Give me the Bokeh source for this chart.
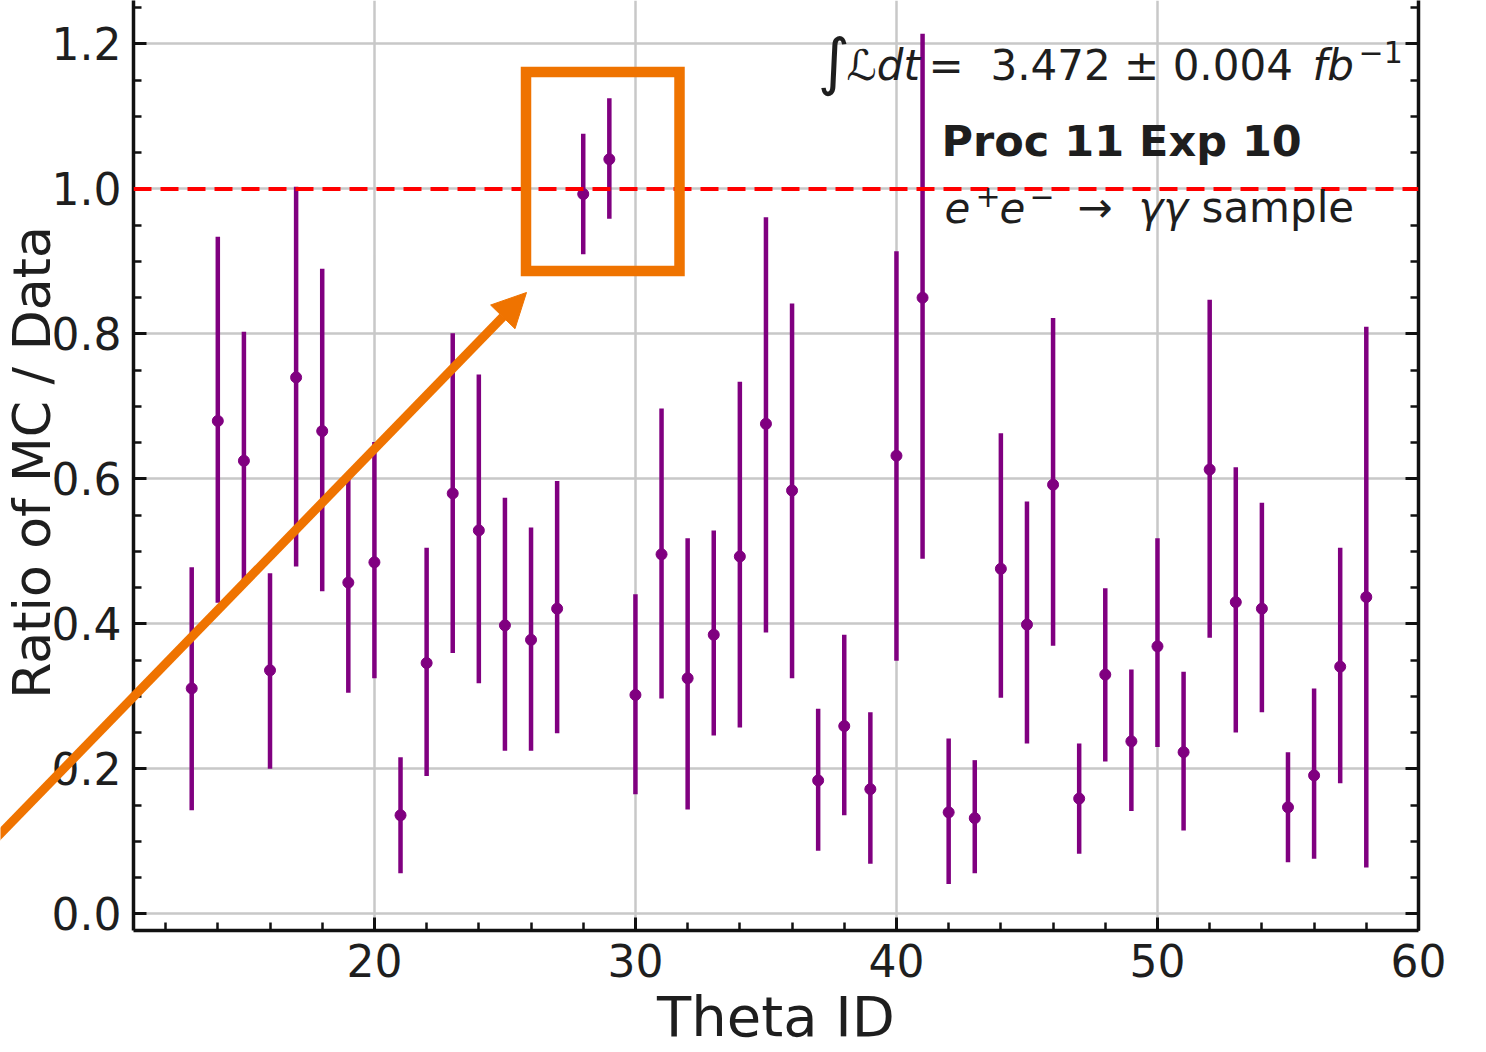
import math

from bokeh.embed import file_html
from bokeh.models import (Arrow, BoxAnnotation, ColumnDataSource, CustomJSTickFormatter,
                          GridBox, Label, LinearAxis, NormalHead, PrintfTickFormatter,
                          Range1d, SingleIntervalTicker, Span)
from bokeh.plotting import figure
from bokeh.resources import INLINE

# ---- data: MC / data ratio per theta bin, with the ends of each error bar ----
theta_id = list(range(13, 59))
ratio = [0.311, 0.680, 0.625, 0.336, 0.740, 0.666, 0.457, 0.485, 0.136, 0.346,
         0.580, 0.529, 0.398, 0.378, 0.421, 0.993, 1.041, 0.302, 0.496, 0.325,
         0.385, 0.493, 0.676, 0.584, 0.184, 0.259, 0.172, 0.632, 0.850, 0.140,
         0.132, 0.476, 0.399, 0.592, 0.159, 0.330, 0.238, 0.369, 0.223, 0.613,
         0.430, 0.421, 0.147, 0.191, 0.341, 0.437]
ratio_low = [0.143, 0.429, 0.452, 0.200, 0.479, 0.445, 0.305, 0.325, 0.056, 0.190,
             0.360, 0.318, 0.225, 0.225, 0.249, 0.910, 0.959, 0.165, 0.297, 0.144,
             0.246, 0.257, 0.388, 0.325, 0.087, 0.136, 0.069, 0.349, 0.490, 0.041,
             0.056, 0.298, 0.235, 0.370, 0.083, 0.210, 0.142, 0.230, 0.115, 0.381,
             0.250, 0.278, 0.071, 0.076, 0.180, 0.064]
ratio_high = [0.478, 0.934, 0.803, 0.470, 1.003, 0.890, 0.607, 0.651, 0.216, 0.505,
              0.801, 0.744, 0.574, 0.533, 0.597, 1.076, 1.125, 0.441, 0.697, 0.518,
              0.529, 0.734, 0.961, 0.842, 0.283, 0.385, 0.278, 0.914, 1.214, 0.242,
              0.212, 0.663, 0.569, 0.822, 0.235, 0.449, 0.337, 0.518, 0.334, 0.847,
              0.616, 0.567, 0.223, 0.311, 0.505, 0.810]

x_ticks_major = 10
y_ticks_major = 0.2
reference_ratio = 1.0

X_RANGE = (10.77, 60.0)
Y_RANGE = (-0.023, 1.26)

W, H = 1486, 1052
FRAME_L, FRAME_R, FRAME_T, FRAME_B = 133, 1418, 0, 930

PURPLE = "#800080"
ORANGE = "#ef7300"
INK = "#1e1e1e"
FONT = "DejaVu Sans"


def dx(px):
    """canvas pixel column -> x data value"""
    return X_RANGE[0] + (px - FRAME_L) / (FRAME_R - FRAME_L) * (X_RANGE[1] - X_RANGE[0])


def dy(py):
    """canvas pixel row -> y data value"""
    return Y_RANGE[1] - (py - FRAME_T) / (FRAME_B - FRAME_T) * (Y_RANGE[1] - Y_RANGE[0])


src = ColumnDataSource(dict(theta=theta_id, ratio=ratio, lo=ratio_low, hi=ratio_high))

p = figure(width=W, height=H, output_backend="svg", toolbar_location=None,
           x_range=Range1d(*X_RANGE), y_range=Range1d(*Y_RANGE), title=None,
           min_border_left=FRAME_L, min_border_right=W - FRAME_R,
           min_border_top=FRAME_T, min_border_bottom=H - FRAME_B)
p.frame_align = False
p.background_fill_color = "white"
p.border_fill_color = "white"
p.outline_line_color = None

# axes: ticks pointing into the frame on left, bottom and right
p.xaxis.ticker = SingleIntervalTicker(interval=x_ticks_major, num_minor_ticks=5)
p.yaxis.ticker = SingleIntervalTicker(interval=y_ticks_major, num_minor_ticks=4)
p.yaxis.formatter = PrintfTickFormatter(format="%.1f")

right = LinearAxis(ticker=SingleIntervalTicker(interval=y_ticks_major, num_minor_ticks=4),
                   formatter=CustomJSTickFormatter(code="return ''"))
p.add_layout(right, "right")

for ax in (p.xaxis[0], p.yaxis[0], right):
    ax.axis_line_color = "#111111"
    ax.axis_line_width = 3.5
    ax.major_tick_line_color = "#111111"
    ax.minor_tick_line_color = "#111111"
    ax.major_tick_in = 13
    ax.major_tick_out = 0
    ax.minor_tick_in = 8
    ax.minor_tick_out = 0
    ax.major_tick_line_width = 3
    ax.minor_tick_line_width = 2.5
    ax.major_label_text_font = FONT
    ax.major_label_text_font_size = "44px"
    ax.major_label_text_color = INK

p.xaxis.major_label_standoff = 13
p.yaxis.major_label_standoff = 12
p.xaxis.axis_label = "Theta ID"
p.xaxis.axis_label_text_font = FONT
p.xaxis.axis_label_text_font_size = "56px"
p.xaxis.axis_label_text_font_style = "normal"
p.xaxis.axis_label_text_color = INK
p.xaxis.axis_label_standoff = 4

p.grid.grid_line_color = "#c8c8c8"
p.grid.grid_line_width = 2.5

# error bars and central values
p.segment(x0="theta", y0="lo", x1="theta", y1="hi", source=src,
          line_color=PURPLE, line_width=4.5)
p.scatter(x="theta", y="ratio", source=src, size=11, color=PURPLE)

# unit-ratio reference
p.add_layout(Span(location=reference_ratio, dimension="width", line_color="red",
                  line_dash="18 9", line_width=4))

# highlight box around the two bins near unity
p.add_layout(BoxAnnotation(left=dx(525.5), right=dx(679), top=dy(71.5), bottom=dy(270.5),
                           fill_color=None, line_color=ORANGE, line_alpha=1.0,
                           line_width=10.5, line_join="miter"))


def label(fig, px, py, text, size=42, style="normal", **kw):
    """place text so that its baseline sits on canvas row py (middle anchor)"""
    fig.add_layout(Label(x=dx(px), y=dy(py - 0.346 * size), text=text, text_font=FONT,
                         text_font_size=f"{size}px", text_font_style=style,
                         text_color=INK, text_baseline="middle",
                         text_align=kw.pop("align", "left"), **kw))


# luminosity
label(p, 817, 82, "\u222b", size=62)
label(p, 846, 80, "\u2112dt", style="italic")
label(p, 928, 80, "=")
label(p, 990, 80, "3.472 \u00b1 0.004")
label(p, 1312, 80, "fb", style="italic")
label(p, 1358, 62, "\u22121", size=30)

# run tag
label(p, 941, 155, "Proc 11 Exp 10", size=43, style="bold")

# sample
label(p, 944, 222, "e", style="italic")
label(p, 975, 206, "+", size=30)
label(p, 999, 222, "e", style="italic")
label(p, 1029, 206, "\u2212", size=30)
label(p, 1077, 222, "\u2192")
label(p, 1138, 222, "\u03b3\u03b3", style="italic")
label(p, 1201, 222, "sample")

# transparent layer over the whole canvas, sharing the same data coordinates,
# for the pieces that reach into the left margin
ov = figure(width=W, height=H, output_backend="svg", toolbar_location=None,
            x_range=Range1d(dx(0), dx(W)), y_range=Range1d(dy(H), dy(0)),
            title=None, x_axis_type=None, y_axis_type=None, min_border=0)
ov.frame_align = False
ov.background_fill_color = None
ov.border_fill_color = None
ov.outline_line_color = None

ov.add_layout(Arrow(end=NormalHead(size=34, fill_color=ORANGE, line_color=ORANGE, line_width=1),
                    x_start=dx(-30), y_start=dy(864), x_end=dx(526), y_end=dy(292),
                    line_color=ORANGE, line_width=9))

# y-axis title, rotated; its baseline runs along canvas column 49
YLABEL_SIZE = 52
ov.add_layout(Label(x=dx(49 - 0.346 * YLABEL_SIZE), y=dy(462), text="Ratio of MC / Data",
                    text_font=FONT, text_font_size=f"{YLABEL_SIZE}px", text_color=INK,
                    text_align="center", text_baseline="middle", angle=math.pi / 2))

page = GridBox(children=[(p, 0, 0), (ov, 0, 0)])

open("out.html", "w").write(file_html(page, INLINE))
